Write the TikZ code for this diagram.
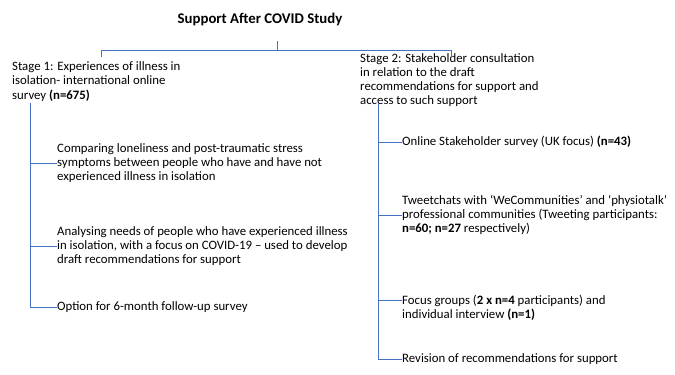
\documentclass[tikz,border=0pt]{standalone}
\usepackage{fontspec}
\setmainfont{Carlito}
\tikzset{
    txt/.style={anchor=west, inner sep=0pt, align=left, font=\fontsize{12.8}{14.3}\selectfont},
    link/.style={draw=linkblue, line width=0.9pt}
}
\definecolor{linkblue}{HTML}{4472C4}
\begin{document}
\begin{tikzpicture}[x=1pt,y=-1pt]
    \useasboundingbox (0,0) rectangle (675,375);
    % title and the two stages
    \node[inner sep=0pt, font=\fontsize{14.8}{16}\selectfont\bfseries] (title) at (260,19.5) {Support After COVID Study};
    \node[txt] (stageone) at (12,81.5) {Stage 1: Experiences of illness in\\isolation- international online\\survey \textbf{(n=675)}};
    \node[txt, font=\fontsize{12.8}{14}\selectfont] (stagetwo) at (360,80) {Stage 2: Stakeholder consultation\\in relation to the draft\\recommendations for support and\\access to such support};
    % stage 1 steps
    \node[txt] (compare) at (57,163) {Comparing loneliness and post-traumatic stress\\symptoms between people who have and have not\\experienced illness in isolation};
    \node[txt] (analyse) at (57,246) {Analysing needs of people who have experienced illness\\in isolation, with a focus on COVID-19 -- used to develop\\draft recommendations for support};
    \node[txt] (option) at (57,307) {Option for 6-month follow-up survey};
    % stage 2 steps
    \node[txt] (online) at (402,142) {Online Stakeholder survey (UK focus) \textbf{(n=43)}};
    \node[txt] (tweet) at (402,215) {Tweetchats with `WeCommunities' and `physiotalk'\\professional communities (Tweeting participants:\\\textbf{n=60; n=27} respectively)};
    \node[txt] (focus) at (402,308) {Focus groups (\textbf{2 x n=4} participants) and\\individual interview \textbf{(n=1)}};
    \node[txt] (revise) at (402,359) {Revision of recommendations for support};
    % connectors
    \coordinate (stem) at (277,41);
    \coordinate (leftend) at (101,57);
    \coordinate (rightend) at (451,57);
    \coordinate (onetop) at (30,103);
    \coordinate (twotop) at (378,103);
    \coordinate (focusin) at (402,300);
    \draw[link] (stem) -- (stem |- 0,50);
    \draw[link] (leftend) |- (rightend |- 0,50) -- (rightend);
    \draw[link] (onetop) |- (option.west);
    \draw[link] (onetop |- compare.west) -- (compare.west);
    \draw[link] (onetop |- analyse.west) -- (analyse.west);
    \draw[link] (twotop) |- (revise.west);
    \draw[link] (twotop |- online.west) -- (online.west);
    \draw[link] (twotop |- tweet.west) -- (tweet.west);
    \draw[link] (twotop |- focusin) -- (focusin);
\end{tikzpicture}
\end{document}
